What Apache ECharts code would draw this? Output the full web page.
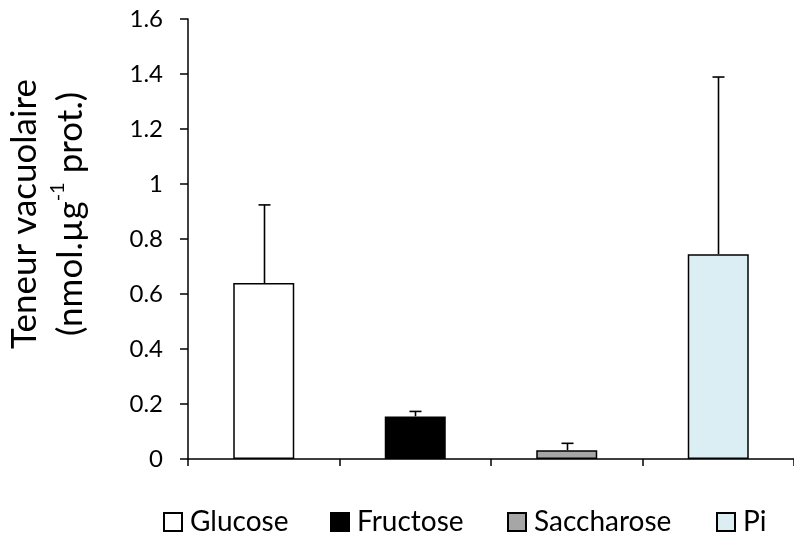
<!DOCTYPE html>
<html><head><meta charset="utf-8">
<script src="https://cdn.jsdelivr.net/npm/echarts@6/dist/echarts.min.js"></script>
<style>html,body{margin:0;padding:0;background:#fff}#c{width:794px;height:537px}</style>
</head><body><div id="c"></div>
<script>
const categories = ['Glucose', 'Fructose', 'Saccharose', 'Pi'];
const means = [0.64, 0.155, 0.032, 0.745];
const errTops = [0.924, 0.173, 0.057, 1.389];
const yTicks = [0, 0.2, 0.4, 0.6, 0.8, 1, 1.2, 1.4, 1.6];
const colors = ['#ffffff', '#000000', '#a6a6a6', '#dbeef4'];
const legendLefts = [163, 330, 507, 716];

const FONT = 'Lato';
const chart = echarts.init(document.getElementById('c'), null, {renderer: 'canvas'});

const barSeries = categories.map((name, i) => ({
  name: name,
  type: 'bar',
  barWidth: 61,
  barGap: '-100%',
  data: categories.map((c, j) => j === i ? means[j] : '-'),
  itemStyle: {color: colors[i], borderColor: '#000', borderWidth: 1.5},
  emphasis: {disabled: true},
  z: 2
}));

const errSeries = {
  type: 'custom',
  data: categories.map((c, i) => [i, means[i], errTops[i]]),
  z: 3,
  silent: true,
  renderItem: function (params, api) {
    const base = api.coord([api.value(0), api.value(1)]);
    const top = api.coord([api.value(0), api.value(2)]);
    const x = Math.round(base[0]) + 0.5;
    const style = {stroke: '#000', lineWidth: 1.6};
    return {
      type: 'group',
      children: [
        {type: 'line', shape: {x1: x, y1: base[1], x2: x, y2: top[1]}, style: style},
        {type: 'line', shape: {x1: x - 6, y1: top[1], x2: x + 6, y2: top[1]}, style: style}
      ]
    };
  }
};

const legends = categories.map((name, i) => ({
  data: [name],
  left: legendLefts[i], top: 508,
  padding: 0,
  itemWidth: 18, itemHeight: 18,
  icon: 'rect',
  textStyle: {fontFamily: FONT, fontSize: 28, color: '#000', padding: [0, 0, 0, 3]},
  selectedMode: false
}));

chart.setOption({
  animation: false,
  textStyle: {fontFamily: FONT},
  grid: {left: 188, top: 19, width: 612, height: 440, containLabel: false},
  legend: legends,
  xAxis: {
    type: 'category',
    data: categories,
    axisLine: {lineStyle: {color: '#000', width: 1.5}},
    axisTick: {show: true, length: 7, lineStyle: {color: '#000', width: 1.5}},
    axisLabel: {show: false},
    splitLine: {show: false}
  },
  yAxis: {
    type: 'value',
    min: 0, max: 1.6, interval: 0.2,
    axisLine: {show: true, lineStyle: {color: '#000', width: 1.5}},
    axisTick: {show: true, length: 8, lineStyle: {color: '#000', width: 1.5}},
    axisLabel: {
      fontFamily: FONT, fontSize: 24, color: '#000', margin: 25,
      formatter: function (v) {
        const t = yTicks.find(k => Math.abs(k - v) < 1e-9);
        return t === undefined ? '' : String(t);
      }
    },
    splitLine: {show: false}
  },
  graphic: [{
    type: 'text',
    x: 48, y: 214,
    rotation: Math.PI / 2,
    style: {
      text: '{a|Teneur vacuolaire}\n{a|(nmol.µg}{s|-1}{a| prot.)}',
      align: 'center',
      verticalAlign: 'middle',
      fill: '#000',
      rich: {
        a: {fontFamily: FONT, fontSize: 35, lineHeight: 46, fill: '#000'},
        s: {fontFamily: FONT, fontSize: 20, lineHeight: 46, verticalAlign: 'top', padding: [0, 0, 14, 0], fill: '#000'}
      }
    }
  }],
  series: barSeries.concat([errSeries])
});
</script>
</body></html>
